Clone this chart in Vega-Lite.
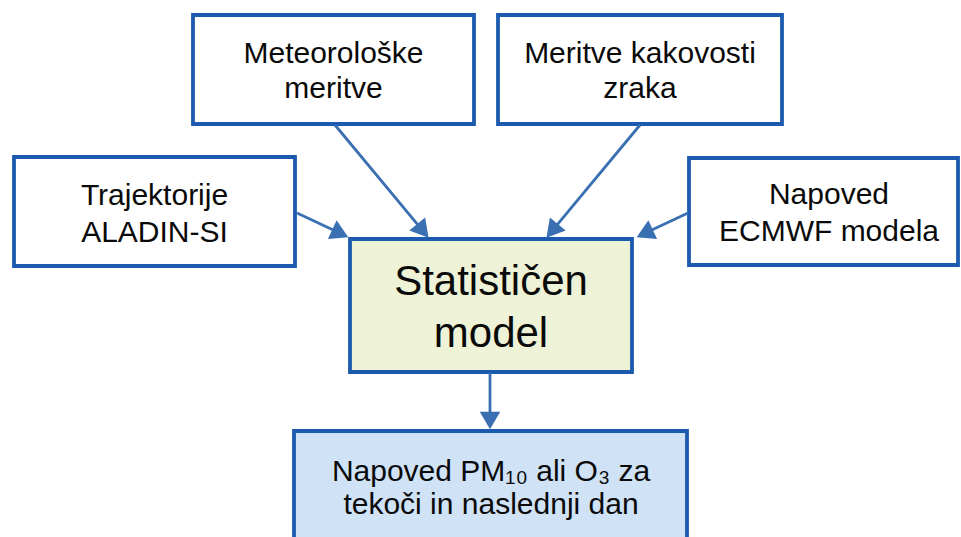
{
  "$schema": "https://vega.github.io/schema/vega-lite/v6.json",
  "width": 961,
  "height": 537,
  "padding": 0,
  "autosize": {"type": "fit", "contains": "padding"},
  "background": "white",
  "config": {"view": {"stroke": null}},
  "datasets": {
    "boxes": [
      {"id": "meteo", "x": 193, "x2": 474, "y": 15, "y2": 124, "fill": "#ffffff"},
      {"id": "meritve", "x": 498, "x2": 782, "y": 15, "y2": 124, "fill": "#ffffff"},
      {"id": "traj", "x": 14, "x2": 295, "y": 157, "y2": 266, "fill": "#ffffff"},
      {"id": "ecmwf", "x": 689, "x2": 958, "y": 158, "y2": 265, "fill": "#ffffff"},
      {"id": "stat", "x": 350, "x2": 632, "y": 239, "y2": 372, "fill": "#eef2d6"},
      {"id": "out", "x": 294, "x2": 687, "y": 431, "y2": 548, "fill": "#cfe2f6"}
    ],
    "arrows": [
      {"id": "traj", "x": 297, "y": 213, "x2": 337.5, "y2": 232.1},
      {"id": "meteo", "x": 335, "y": 125, "x2": 420.6, "y2": 228.2},
      {"id": "meritve", "x": 640, "y": 125, "x2": 554.4, "y2": 228.2},
      {"id": "ecmwf", "x": 688, "y": 213, "x2": 647.5, "y2": 232.1},
      {"id": "down", "x": 490, "y": 373, "x2": 490, "y2": 418}
    ],
    "heads": [
      {"id": "traj", "x": 340.3, "y": 233.4, "angle": 115.2},
      {"id": "meteo", "x": 422.9, "y": 230.9, "angle": 140.3},
      {"id": "meritve", "x": 552.1, "y": 230.9, "angle": 219.7},
      {"id": "ecmwf", "x": 644.7, "y": 233.4, "angle": 244.8},
      {"id": "down", "x": 490, "y": 420.5, "angle": 180}
    ],
    "labels": [
      {"text": "Meteorološke", "x": 333.5, "y": 63, "fs": 30},
      {"text": "meritve", "x": 333.5, "y": 98, "fs": 30},
      {"text": "Meritve kakovosti", "x": 640, "y": 63, "fs": 30},
      {"text": "zraka", "x": 640, "y": 98, "fs": 30},
      {"text": "Trajektorije", "x": 154.5, "y": 205, "fs": 30},
      {"text": "ALADIN-SI", "x": 154.5, "y": 242, "fs": 30},
      {"text": "Napoved", "x": 829, "y": 204, "fs": 30},
      {"text": "ECMWF modela", "x": 829, "y": 241, "fs": 30},
      {"text": "Statističen", "x": 491, "y": 295, "fs": 42},
      {"text": "model", "x": 491, "y": 347, "fs": 42},
      {"text": "Napoved PM₁₀ ali O₃ za", "x": 491, "y": 481, "fs": 30},
      {"text": "tekoči in naslednji dan", "x": 491, "y": 514, "fs": 30}
    ]
  },
  "layer": [
    {
      "data": {"name": "boxes"},
      "mark": {"type": "rect", "stroke": "#1b5aae", "strokeWidth": 3.8, "clip": true},
      "encoding": {
        "x": {"field": "x", "type": "quantitative", "scale": {"domain": [0, 961], "nice": false, "zero": false}, "axis": null},
        "x2": {"field": "x2"},
        "y": {"field": "y", "type": "quantitative", "scale": {"domain": [0, 537], "nice": false, "zero": false, "reverse": true}, "axis": null},
        "y2": {"field": "y2"},
        "fill": {"field": "fill", "type": "nominal", "scale": null}
      }
    },
    {
      "data": {"name": "arrows"},
      "mark": {"type": "rule", "stroke": "#3a6fb2", "strokeWidth": 2.8},
      "encoding": {
        "x": {"field": "x", "type": "quantitative"},
        "y": {"field": "y", "type": "quantitative"},
        "x2": {"field": "x2"},
        "y2": {"field": "y2"}
      }
    },
    {
      "data": {"name": "heads"},
      "mark": {"type": "point", "shape": "triangle-up", "filled": true, "fill": "#3a6fb2", "opacity": 1, "size": 420},
      "encoding": {
        "x": {"field": "x", "type": "quantitative"},
        "y": {"field": "y", "type": "quantitative"},
        "angle": {"field": "angle", "type": "quantitative", "scale": null}
      }
    },
    {
      "data": {"name": "labels"},
      "mark": {"type": "text", "font": "Liberation Sans", "align": "center", "baseline": "alphabetic", "color": "#0a0a0a"},
      "encoding": {
        "x": {"field": "x", "type": "quantitative"},
        "y": {"field": "y", "type": "quantitative"},
        "text": {"field": "text", "type": "nominal"},
        "size": {"field": "fs", "type": "quantitative", "scale": null}
      }
    }
  ]
}
